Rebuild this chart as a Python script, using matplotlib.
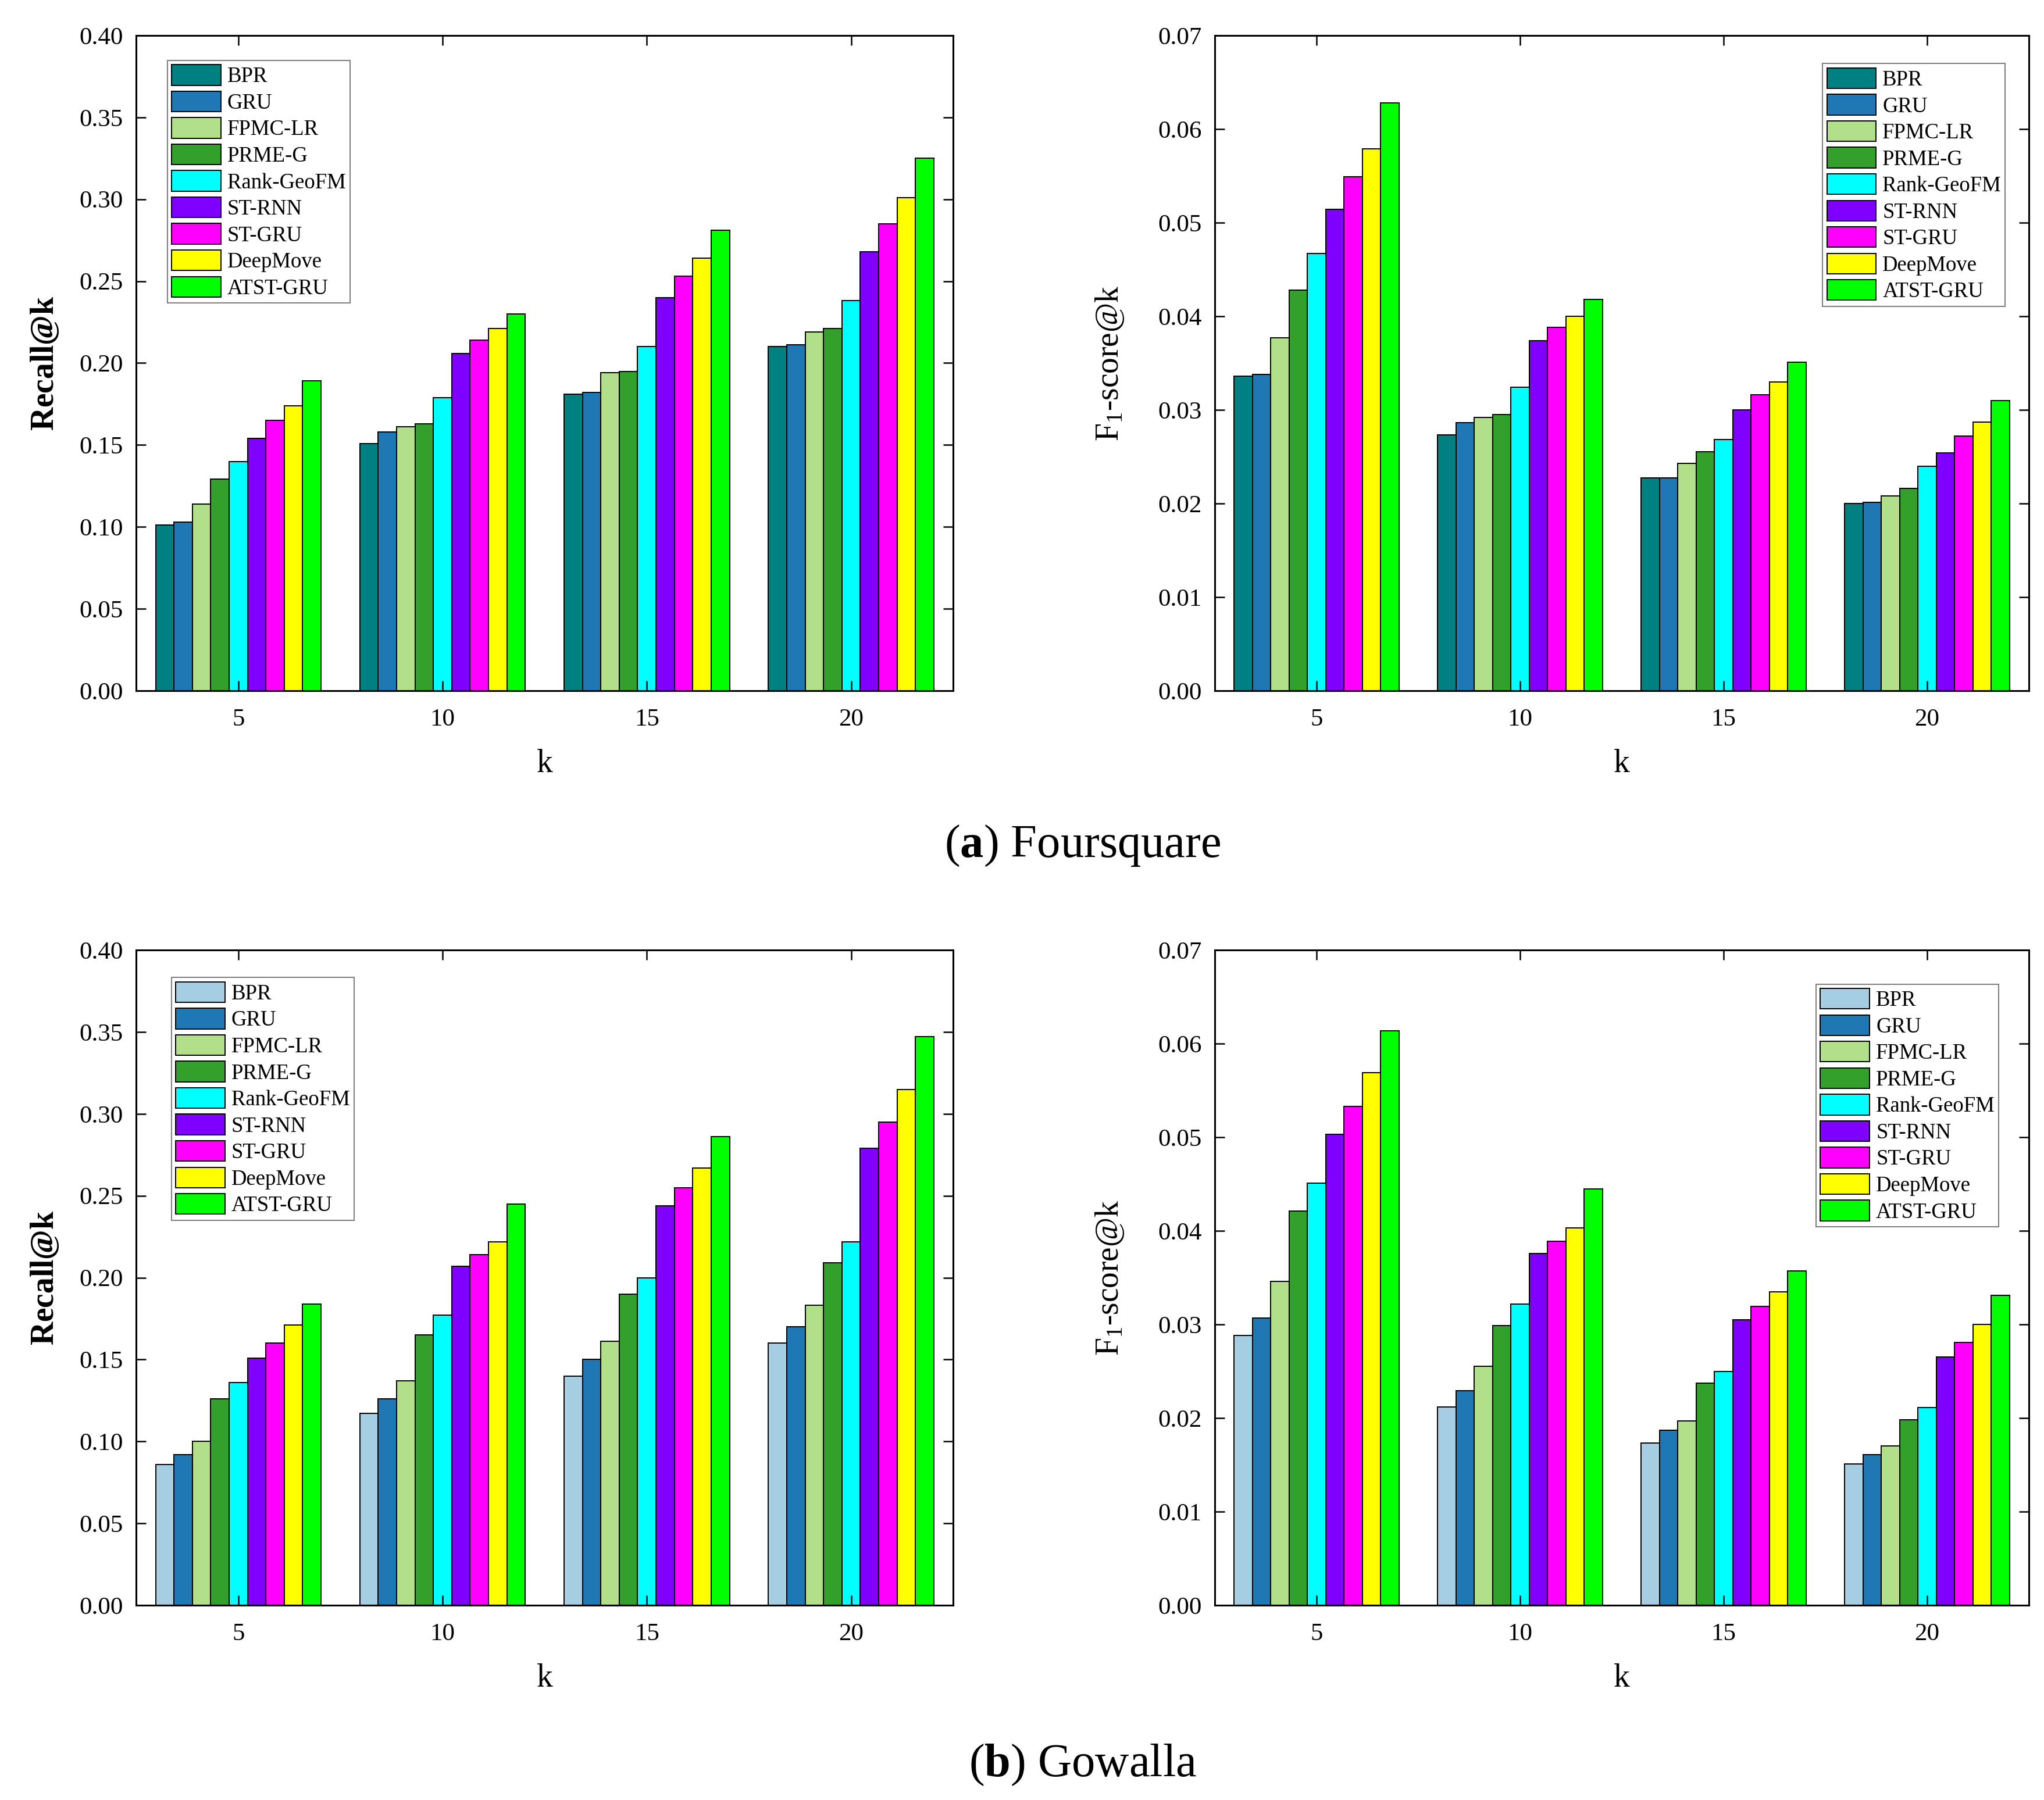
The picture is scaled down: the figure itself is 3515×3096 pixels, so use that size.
import numpy as np
import matplotlib.pyplot as plt
from matplotlib.ticker import FormatStrFormatter

plt.rcParams['font.family'] = ['Liberation Serif', 'DejaVu Serif']
plt.rcParams['mathtext.fontset'] = 'custom'
plt.rcParams['mathtext.rm'] = 'Liberation Serif'
plt.rcParams['mathtext.it'] = 'Liberation Serif:italic'
plt.rcParams['mathtext.bf'] = 'Liberation Serif:bold'

kValues = ['5', '10', '15', '20']
methods = ['BPR', 'GRU', 'FPMC-LR', 'PRME-G', 'Rank-GeoFM', 'ST-RNN', 'ST-GRU', 'DeepMove', 'ATST-GRU']

colorsFoursquare = ['#008080', '#1f78b4', '#b2df8a', '#33a02c', '#00ffff',
                    '#8000ff', '#ff00ff', '#ffff00', '#00ff00']
colorsGowalla = ['#a6cee3', '#1f78b4', '#b2df8a', '#33a02c', '#00ffff',
                 '#8000ff', '#ff00ff', '#ffff00', '#00ff00']

# one row per method, one column per k (5, 10, 15, 20)
recallFoursquare = [
    [0.101, 0.151, 0.181, 0.210],
    [0.103, 0.158, 0.182, 0.211],
    [0.114, 0.161, 0.194, 0.219],
    [0.129, 0.163, 0.195, 0.221],
    [0.140, 0.179, 0.210, 0.238],
    [0.154, 0.206, 0.240, 0.268],
    [0.165, 0.214, 0.253, 0.285],
    [0.174, 0.221, 0.264, 0.301],
    [0.189, 0.230, 0.281, 0.325],
]
f1Foursquare = [
    [0.0336, 0.0273, 0.0227, 0.0200],
    [0.0338, 0.0286, 0.0227, 0.0201],
    [0.0377, 0.0292, 0.0243, 0.0208],
    [0.0428, 0.0295, 0.0255, 0.0216],
    [0.0467, 0.0324, 0.0268, 0.0240],
    [0.0514, 0.0374, 0.0300, 0.0254],
    [0.0549, 0.0388, 0.0316, 0.0272],
    [0.0579, 0.0400, 0.0330, 0.0287],
    [0.0628, 0.0418, 0.0351, 0.0310],
]
recallGowalla = [
    [0.086, 0.117, 0.140, 0.160],
    [0.092, 0.126, 0.150, 0.170],
    [0.100, 0.137, 0.161, 0.183],
    [0.126, 0.165, 0.190, 0.209],
    [0.136, 0.177, 0.200, 0.222],
    [0.151, 0.207, 0.244, 0.279],
    [0.160, 0.214, 0.255, 0.295],
    [0.171, 0.222, 0.267, 0.315],
    [0.184, 0.245, 0.286, 0.347],
]
f1Gowalla = [
    [0.0288, 0.0212, 0.0173, 0.0151],
    [0.0307, 0.0229, 0.0187, 0.0161],
    [0.0346, 0.0255, 0.0197, 0.0170],
    [0.0421, 0.0299, 0.0237, 0.0198],
    [0.0451, 0.0322, 0.0250, 0.0211],
    [0.0503, 0.0376, 0.0305, 0.0265],
    [0.0533, 0.0389, 0.0319, 0.0281],
    [0.0569, 0.0403, 0.0335, 0.0300],
    [0.0614, 0.0445, 0.0357, 0.0331],
]

tickSize = 31
labelSize = 40
legendSize = 26.5
barW = 0.09

fig = plt.figure(figsize=(35.16, 30.96), dpi=100)

panels = [
    # rect, data, colors, ylabel, ymax, ystep, legend anchor, legend loc, ylabel x
    ([0.0666, 0.6163, 0.3996, 0.364], recallFoursquare, colorsFoursquare,
     r'$\mathbf{Recall@k}$', 0.40, 0.05, (0.038, 0.962), 'upper left', -0.093),
    ([0.5941, 0.6163, 0.3982, 0.364], f1Foursquare, colorsFoursquare,
     r'F$_1$-score@k', 0.07, 0.01, (0.971, 0.957), 'upper right', -0.109),
    ([0.0666, 0.1082, 0.3996, 0.364], recallGowalla, colorsGowalla,
     r'$\mathbf{Recall@k}$', 0.40, 0.05, (0.043, 0.958), 'upper left', -0.093),
    ([0.5941, 0.1082, 0.3982, 0.364], f1Gowalla, colorsGowalla,
     r'F$_1$-score@k', 0.07, 0.01, (0.963, 0.948), 'upper right', -0.109),
]

x = np.arange(len(kValues))

for rect, data, colors, ylab, ymax, ystep, anchor, loc, ylabX in panels:
    ax = fig.add_axes(rect)
    for i, m in enumerate(methods):
        ax.bar(x + (i - 4) * barW, data[i], barW, color=colors[i],
               edgecolor='black', linewidth=1.4, label=m)

    ax.set_xlim(-0.5, 3.5)
    ax.set_ylim(0, ymax)
    ax.set_xticks(x)
    ax.set_xticklabels(kValues)
    ax.set_yticks(np.arange(0, ymax + ystep / 2, ystep))
    ax.yaxis.set_major_formatter(FormatStrFormatter('%.2f'))

    ax.tick_params(direction='in', top=True, right=True, length=12, width=1.8,
                   labelsize=tickSize)
    ax.tick_params(axis='y', pad=16)
    ax.tick_params(axis='x', pad=22)
    for s in ax.spines.values():
        s.set_linewidth(2.2)

    ax.set_ylabel(ylab, fontsize=labelSize)
    ax.yaxis.set_label_coords(ylabX, 0.5)
    ax.set_xlabel('k', fontsize=labelSize)
    ax.xaxis.set_label_coords(0.5, -0.112)
    ax.xaxis.label.set_va('center')

    leg = ax.legend(loc=loc, bbox_to_anchor=anchor, borderaxespad=0,
                    fontsize=legendSize, fancybox=False, framealpha=1,
                    edgecolor='#808080', handlelength=2.3, handleheight=1.1,
                    handletextpad=0.3, labelspacing=0.2, borderpad=0.2)
    leg.get_frame().set_linewidth(1.5)

fig.text(0.5295, 0.530, r'($\mathbf{a}$) Foursquare', fontsize=58,
         ha='center', va='center')
fig.text(0.5295, 0.0194, r'($\mathbf{b}$) Gowalla', fontsize=58,
         ha='center', va='center')

plt.savefig('out.png')
plt.close()
